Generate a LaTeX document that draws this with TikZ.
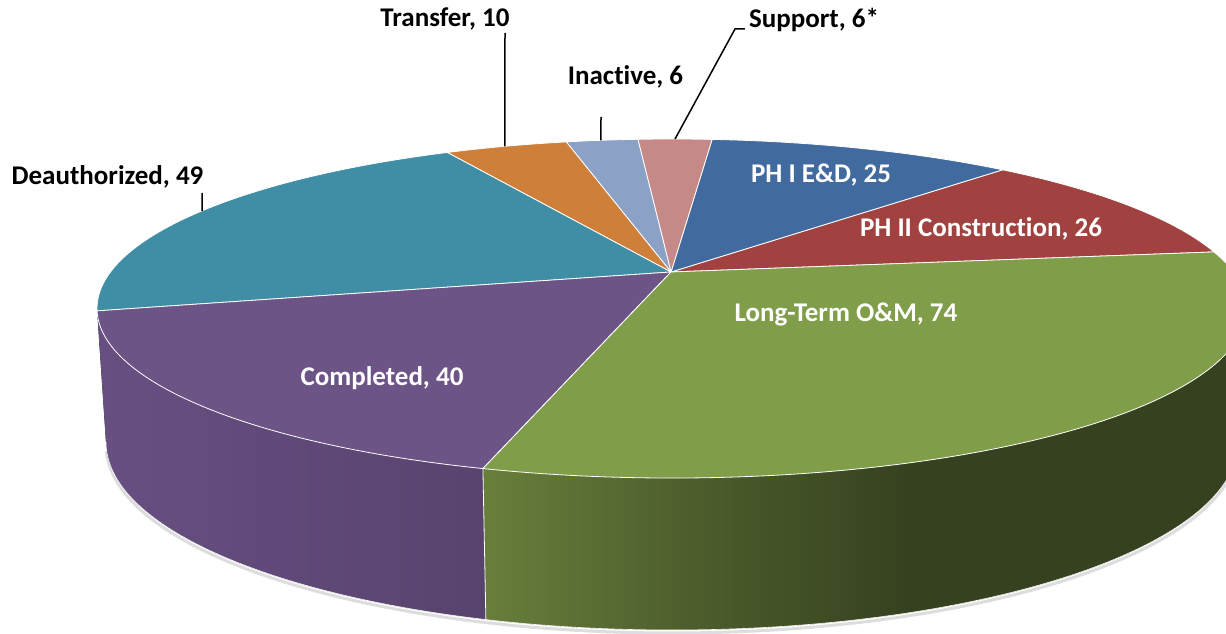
\documentclass[tikz,border=0pt]{standalone}
\usepackage{fontspec}
\setmainfont{Carlito}[Ligatures=NoCommon]
\usepackage{tikz}
\usetikzlibrary{calc}
\definecolor{bleu}{HTML}{416B9F}
\definecolor{rouge}{HTML}{A14140}
\definecolor{vert}{HTML}{809E4A}
\definecolor{violet}{HTML}{6C5486}
\definecolor{turquoise}{HTML}{3F8EA5}
\definecolor{orange}{HTML}{CE7F3A}
\definecolor{bleuclair}{HTML}{8BA1C6}
\definecolor{rose}{HTML}{C58988}
\definecolor{violetA}{HTML}{684F82}
\definecolor{violetB}{HTML}{58436E}
\definecolor{vertA}{HTML}{687F3B}
\definecolor{vertM}{HTML}{4E5F2D}
\definecolor{vertB}{HTML}{36411F}
\pgfdeclarehorizontalshading{flancvert}{100bp}{color(0bp)=(vertA); color(25bp)=(vertA);
  color(38bp)=(vertM); color(53bp)=(vertB); color(100bp)=(vertB)}

\begin{document}
\begin{tikzpicture}[x=1pt,y=1pt]
\tikzstyle{bord}=[draw=white,line width=0.8pt,line join=round]
\tikzstyle{etiquette}=[font=\bfseries\fontsize{27}{32}\selectfont,inner sep=0pt]
\tikzstyle{blanc}=[etiquette,text=white]
\tikzstyle{trait}=[draw=black,line width=1.5pt]
% ellipse du dessus et ellipse du dessous
\def\Cx{672}
\def\Cy{325.5}
\def\Rx{575}
\def\Ry{169.5}
\def\Bx{672}
\def\By{192}
\def\BRx{566}
\def\BRy{188}
\def\Joint{250.8}
\useasboundingbox (0,0) rectangle (1226,634);
\coordinate (centre) at (671,362);
% ombre
\draw[gray!45,line width=3pt,opacity=0.6] ({\Bx+\BRx*cos(182)},{\By+\BRy*sin(182)-3})
  arc[start angle=182,end angle=360,x radius=\BRx pt,y radius=\BRy pt];
% flanc
\fill[left color=violetA,right color=violetB] ({\Cx-\Rx},{\Cy})
  arc[start angle=180,end angle=\Joint,x radius=\Rx pt,y radius=\Ry pt]
  -- ({\Bx+\BRx*cos(\Joint)},{\By+\BRy*sin(\Joint)})
  arc[start angle=\Joint,end angle=180,x radius=\BRx pt,y radius=\BRy pt] -- cycle;
\fill[shading=flancvert] ({\Cx+\Rx*cos(\Joint)},{\Cy+\Ry*sin(\Joint)})
  arc[start angle=\Joint,end angle=360,x radius=\Rx pt,y radius=\Ry pt]
  -- ({\Bx+\BRx},{\By})
  arc[start angle=360,end angle=\Joint,x radius=\BRx pt,y radius=\BRy pt] -- cycle;
\draw[bord] ({\Cx+\Rx*cos(\Joint)},{\Cy+\Ry*sin(\Joint)}) -- ({\Bx+\BRx*cos(\Joint)},{\By+\BRy*sin(\Joint)});
\draw[bord,line width=0.6pt] ({\Bx+\BRx*cos(180)},{\By+\BRy*sin(180)})
  arc[start angle=180,end angle=360,x radius=\BRx pt,y radius=\BRy pt];
% tranches du dessus
\foreach \Debut/\Fin/\Couleur in {19.5/54.9/rouge,54.9/86/bleu,86/93.4/rose,93.4/100.6/bleuclair,
  100.6/113/orange,113/180.8/turquoise,180.8/250.8/violet,250.8/379.5/vert}
  \filldraw[bord,fill=\Couleur] (centre) -- ({\Cx+\Rx*cos(\Debut)},{\Cy+\Ry*sin(\Debut)})
    arc[start angle=\Debut,end angle=\Fin,x radius=\Rx pt,y radius=\Ry pt] -- cycle;
% etiquettes
\node[etiquette] (deauth) at (107.5,457) {Deauthorized, 49};
\node[etiquette] (transfer) at (445,615) {Transfer, 10};
\node[etiquette] (inactive) at (625.5,557) {Inactive, 6};
\node[etiquette] (support) at (814,614) {Support, 6*};
\node[blanc] (phun) at (821,459) {PH I E\&D, 25};
\node[blanc] (phdeux) at (981,405) {PH II Construction, 26};
\node[blanc] (longterm) at (846,320) {Long-Term O\&M, 74};
\node[blanc] (completed) at (382,256) {Completed, 40};
% traits de rappel
\coordinate (bordDeauth) at ({\Cx+\Rx*cos(144.8)},{\Cy+\Ry*sin(144.8)});
\coordinate (bordTransfer) at ({\Cx+\Rx*cos(106.9)},{\Cy+\Ry*sin(106.9)});
\coordinate (bordInactive) at ({\Cx+\Rx*cos(97.1)},{\Cy+\Ry*sin(97.1)});
\coordinate (bordSupport) at ({\Cx+\Rx*cos(89.7)},{\Cy+\Ry*sin(89.7)});
\coordinate (piedDeauth) at (202,441);
\coordinate (piedTransfer) at (505,601);
\coordinate (piedInactive) at (601,517);
\coordinate (coudeSupport) at (735,605);
\draw[trait] (piedDeauth) -- (bordDeauth);
\draw[trait] (piedTransfer) -- (bordTransfer);
\draw[trait] (piedInactive) -- (bordInactive);
\draw[trait] ([xshift=-4pt]support.west |- coudeSupport) -- (coudeSupport) -- (bordSupport);
\end{tikzpicture}
\end{document}
